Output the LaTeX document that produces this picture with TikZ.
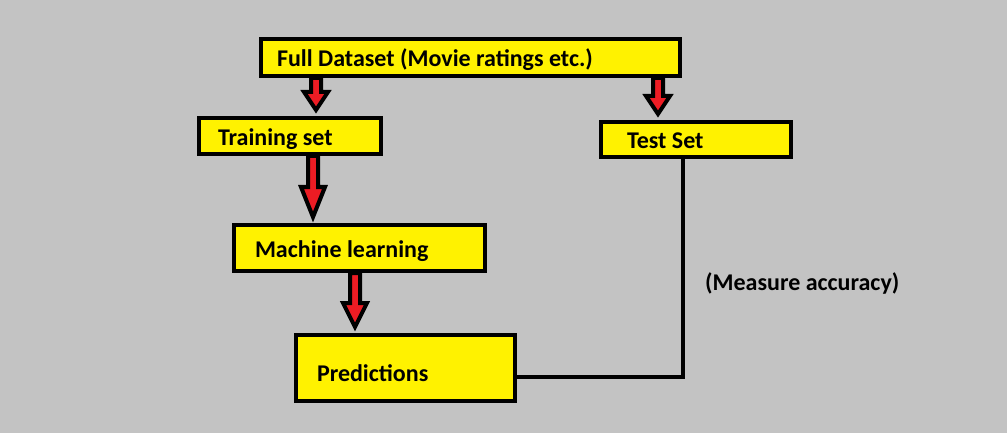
\documentclass[tikz,border=0pt]{standalone}
\usepackage{fontspec}
\setmainfont{Carlito}
\usetikzlibrary{calc}

\definecolor{paintgray}{RGB}{195,195,195}
\definecolor{paintyellow}{RGB}{255,242,0}
\definecolor{paintred}{RGB}{237,28,36}

\tikzset{
  stage/.style={draw=black,line width=4pt,fill=paintyellow,align=flush left,
    font=\fontsize{24}{28}\selectfont\bfseries,text height=19pt,text depth=0pt},
  fat arrow/.style={draw=black,line width=4pt,fill=paintred,line join=miter,
    to path={let \p1=(\tikztostart), \p2=(\tikztotarget) in
      (\x1-5pt,\y1) -- (\x1-5pt,\y2+6pt+#1) -- (\x1-12pt,\y2+6pt+#1) -- (\x1,\y2+6pt)
      -- (\x1+12pt,\y2+6pt+#1) -- (\x1+5pt,\y2+6pt+#1) -- (\x1+5pt,\y1) -- cycle}},
  link/.style={draw=black,line width=4pt}
}

\begin{document}
\begin{tikzpicture}[x=1pt,y=-1pt]
\fill[paintgray] (0,0) rectangle (1007,433);
\useasboundingbox (0,0) rectangle (1007,433);

 \node[stage,minimum width=419pt,minimum height=37pt,text width=387pt] (full) at (470.5,57.5) {Full Dataset (Movie ratings etc.)};
 \node[stage,minimum width=182pt,minimum height=36pt,text width=144pt] (train) at (290,136) {Training set};
 \node[stage,minimum width=190pt,minimum height=35pt,text width=138pt] (test) at (696,139.5) {Test Set};
 \node[stage,minimum width=251pt,minimum height=46pt,text width=209pt] (ml) at (359.5,248) {Machine learning};
 \node[stage,minimum width=219pt,minimum height=66pt,text width=177pt,text height=27pt] (pred) at (405.5,368) {Predictions};

 \node[font=\fontsize{24}{28}\selectfont\bfseries,anchor=base west,inner sep=0pt] (acc) at (705,290) {(Measure accuracy)};

 \draw[fat arrow=18pt] (full.south -| 316,0) to (train.north);
 \draw[fat arrow=18pt] (full.south -| 658,0) to (test.north);
 \draw[fat arrow=30pt] (train.south -| 313,0) to (ml.north);
 \draw[fat arrow=24pt] (ml.south -| 355,0) to (pred.north);

 \draw[link] ([yshift=-9pt]pred.east) -| ([xshift=-13pt]test.south);

\end{tikzpicture}
\end{document}
